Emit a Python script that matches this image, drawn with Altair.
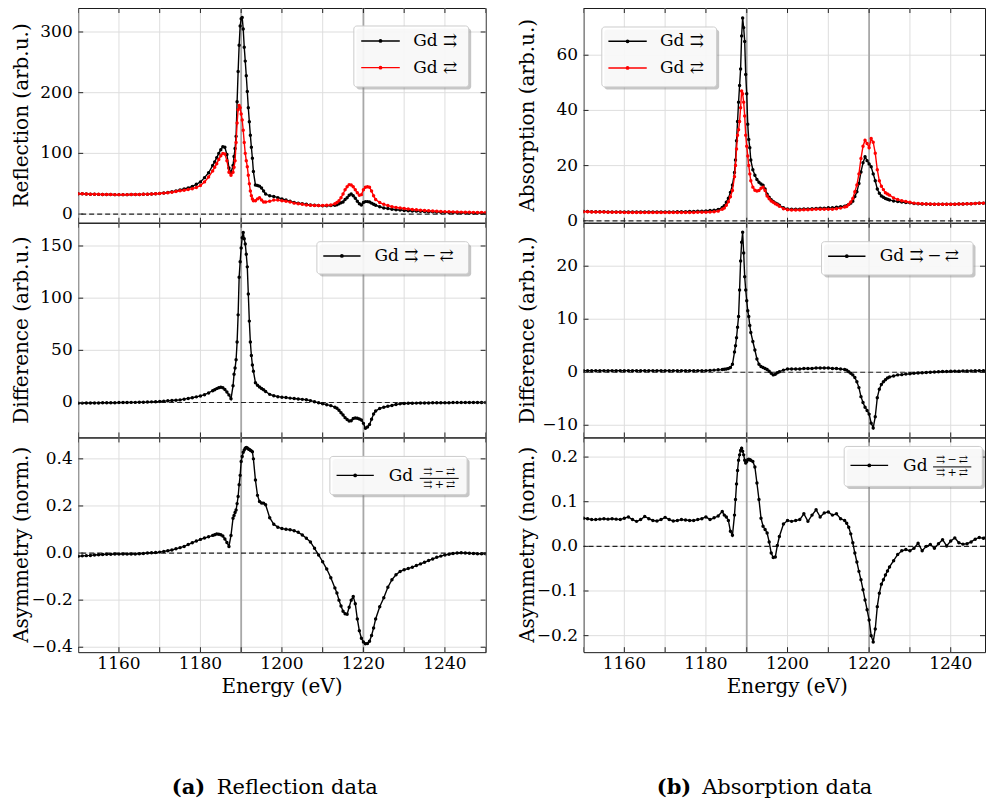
import altair as alt
import pandas as pd

# ---------------- data ----------------
E_L = [1150, 1151, 1152, 1153, 1154, 1155, 1156, 1157, 1158, 1159,
       1160, 1161, 1162, 1163, 1164, 1165, 1166, 1167, 1168, 1169,
       1170, 1171, 1172, 1173, 1174, 1175, 1176, 1177, 1178, 1179,
       1180, 1181, 1182, 1183,
       1183.5, 1184, 1184.5, 1185, 1185.5, 1186, 1186.5, 1187, 1187.5, 1188,
       1188.25, 1188.5, 1188.75, 1189, 1189.25, 1189.5, 1189.75, 1190, 1190.25, 1190.5,
       1190.75, 1191, 1191.25, 1191.5, 1191.75, 1192, 1192.25, 1192.5, 1192.75, 1193,
       1193.5, 1194, 1194.5, 1195, 1195.5, 1196,
       1197, 1198, 1199, 1200, 1201, 1202, 1203, 1204, 1205, 1206, 1207, 1208, 1209,
       1210, 1211, 1212, 1213,
       1213.5, 1214, 1214.5, 1215, 1215.5, 1216, 1216.5, 1217, 1217.5, 1218,
       1218.5, 1219, 1219.5, 1220, 1220.5, 1221, 1221.5, 1222, 1222.5, 1223,
       1224, 1225, 1226, 1227, 1228, 1229, 1230, 1231, 1232, 1233, 1234, 1235, 1236,
       1237, 1238, 1239, 1240, 1241, 1242, 1243, 1244, 1245, 1246, 1247, 1248, 1249, 1250]

REFL_P = [33.5, 33.3, 33.0, 32.8, 32.6, 32.4, 32.3, 32.2, 32.1, 32.0,
          32.0, 32.0, 32.0, 32.1, 32.2, 32.3, 32.5, 32.8, 33.1, 33.5,
          34.0, 34.7, 35.5, 36.6, 38.0, 39.6, 41.5, 43.0, 45.5, 49.0,
          53, 60, 68, 80,
          86, 93, 100, 106, 111, 110, 98, 76, 68, 80,
          95, 108, 128, 185, 235, 278, 310, 322, 324, 305,
          275, 252, 228, 202, 175, 152, 130, 110, 92, 70,
          48, 47, 46, 43, 38, 33,
          30, 29, 27, 25, 23, 21, 19, 18, 17, 16, 15, 14.5, 14, 13.5, 13.5, 14, 14.5,
          15.5, 17, 18.5, 20, 24, 27, 31, 33, 30, 26,
          21, 17, 15, 19, 20.5, 20.5, 20, 18, 16, 14.5,
          12, 10, 9, 8, 7.2, 6.6, 6, 5.5, 5.1, 4.8, 4.5, 4.2, 3.9,
          3.6, 3.4, 3.1, 2.9, 2.7, 2.5, 2.3, 2.2, 2.0, 1.9, 1.8, 1.7, 1.6, 1.5]

REFL_A = [33.5, 33.3, 33.0, 32.8, 32.6, 32.5, 32.3, 32.2, 32.1, 32.0,
          32.0, 32.0, 32.0, 32.1, 32.2, 32.3, 32.5, 32.8, 33.0, 33.4,
          33.9, 34.5, 35.2, 36.1, 37.2, 38.3, 39.3, 40.5, 41.8, 43.8,
          47, 53, 61, 71,
          77, 83, 90, 96, 100, 99, 88, 69, 64, 69,
          77, 88, 118, 150, 172, 179, 175, 165, 155, 138,
          118, 100, 88, 78, 64, 50, 38, 30, 25, 22,
          22, 25, 27, 23, 20, 20,
          21, 23, 23, 22, 21, 20, 18, 17, 16, 15, 14.5, 14, 14, 14, 14.5, 15, 17,
          19, 22, 27, 33, 40, 45, 48.5, 48, 45, 40,
          35, 31, 32, 40, 44, 45, 44, 38, 30, 24,
          19, 16, 14, 12, 11, 10, 9.2, 8.4, 7.6, 7.0, 6.4, 5.9, 5.4,
          5.0, 4.6, 4.3, 4.0, 3.8, 3.6, 3.4, 3.2, 3.0, 2.9, 2.8, 2.7, 2.6, 2.5]

REFL_DIFF = [-0.6, -0.6, -0.5, -0.5, -0.4, -0.4, -0.3, -0.3, -0.2, -0.2,
             -0.1, 0, 0, 0.1, 0.1, 0.2, 0.3, 0.4, 0.6, 0.8,
             1.0, 1.3, 1.6, 1.9, 2.2, 2.5, 3.2, 3.9, 4.6, 5.4,
             6.3, 7.5, 9.2, 11.3,
             12.3, 13.3, 14.2, 14.7, 14.2, 12.5, 10, 7.3, 3.5, 16,
             27, 33, 41, 58, 84, 120, 135, 148, 158, 163,
             157, 152, 142, 130, 104, 78, 58, 45, 36, 30,
             19, 16.5, 14.8, 13.5, 12.2, 10.5,
             7.8, 6.5, 5.6, 5.1, 4.7, 4.2, 3.8, 3.4, 3.0, 2.6, 1.8, 0.8, -0.3, -1.2, -2.1, -3.0, -4.5,
             -5.5, -7.5, -9.8, -12, -14.5, -16.3, -17.8, -17.5, -15.3, -14.8,
             -15, -15.8, -16.8, -20, -24.6, -23.5, -21, -16, -11, -8.2,
             -5.7, -4.6, -3.6, -2.8, -1.9, -1.3, -1.0, -0.8, -0.7, -0.6, -0.5, -0.4, -0.4,
             -0.3, -0.3, -0.2, -0.2, -0.2, -0.1, -0.1, -0.1, 0, 0, 0, 0, 0, 0]

REFL_ASYM = [-0.014, -0.012, -0.011, -0.010, -0.008, -0.007, -0.006, -0.005, -0.005, -0.004,
             -0.004, -0.004, -0.004, -0.004, -0.004, -0.003, -0.002, 0.0, 0.001, 0.002,
             0.004, 0.007, 0.010, 0.013, 0.018, 0.023, 0.028, 0.036, 0.044, 0.051,
             0.058, 0.064, 0.069, 0.075,
             0.078, 0.081, 0.080, 0.078, 0.072, 0.060, 0.045, 0.028, 0.075, 0.148,
             0.16, 0.172, 0.183, 0.21, 0.24, 0.29, 0.33, 0.389, 0.41, 0.428,
             0.438, 0.445, 0.448, 0.446, 0.442, 0.44, 0.437, 0.434, 0.43, 0.40,
             0.31, 0.245, 0.219, 0.213, 0.212, 0.205,
             0.15, 0.122, 0.11, 0.104, 0.101, 0.099, 0.095, 0.088, 0.077, 0.063, 0.047, 0.02,
             -0.008, -0.037, -0.068, -0.105, -0.148,
             -0.17, -0.2, -0.225, -0.247, -0.258, -0.26, -0.23, -0.2, -0.185, -0.215,
             -0.28, -0.33, -0.362, -0.378, -0.385, -0.384, -0.375, -0.35, -0.318, -0.28,
             -0.228, -0.19, -0.145, -0.113, -0.092, -0.078, -0.071, -0.066, -0.06, -0.053,
             -0.046, -0.039, -0.032, -0.025, -0.018, -0.013, -0.008, -0.005, -0.002, 0.0,
             0.001, 0.0, -0.001, -0.002, -0.003, -0.003, -0.003]

E_R = [1150, 1151, 1152, 1153, 1154, 1155, 1156, 1157, 1158, 1159,
       1160, 1161, 1162, 1163, 1164, 1165, 1166, 1167, 1168, 1169,
       1170, 1171, 1172, 1173, 1174, 1175, 1176, 1177, 1178, 1179,
       1180, 1181, 1182, 1183,
       1184, 1184.5, 1185, 1185.5, 1186, 1186.5, 1187,
       1187.25, 1187.5, 1187.75, 1188, 1188.25, 1188.5, 1188.75, 1189,
       1189.25, 1189.5, 1189.75, 1190, 1190.25, 1190.5, 1190.75, 1191,
       1191.5, 1192, 1192.5, 1193, 1193.5, 1194, 1194.5, 1195, 1195.5, 1196, 1196.5, 1197, 1197.5, 1198,
       1199, 1200, 1201, 1202, 1203, 1204, 1205, 1206, 1207, 1208, 1209, 1210, 1211, 1212, 1213, 1214,
       1214.5, 1215, 1215.5, 1216, 1216.5, 1217, 1217.5, 1218, 1218.5, 1219, 1219.5,
       1220, 1220.5, 1221, 1221.5, 1222, 1222.5, 1223, 1223.5, 1224, 1224.5, 1225,
       1226, 1227, 1228, 1229, 1230, 1231, 1232, 1233, 1234, 1235, 1236, 1237, 1238,
       1239, 1240, 1241, 1242, 1243, 1244, 1245, 1246, 1247, 1248, 1249, 1250]

ABS_P = [3.4, 3.4, 3.3, 3.3, 3.3, 3.3, 3.2, 3.2, 3.2, 3.2,
         3.2, 3.2, 3.2, 3.2, 3.2, 3.2, 3.2, 3.2, 3.2, 3.2,
         3.2, 3.2, 3.2, 3.3, 3.3, 3.3, 3.4, 3.4, 3.5, 3.5,
         3.6, 3.7, 3.8, 4.1,
         4.8, 5.5, 6.7, 8.2, 10.3, 13, 17.5,
         22, 29, 36, 43, 49, 55, 67, 73.5,
         70, 65, 53, 46, 35, 29.5, 26.5, 22,
         18.5, 16.5, 15, 14, 13.3, 12.9, 11.5, 9.6, 8.5, 7.6, 7.0, 6.5, 6.1, 5.6,
         4.7, 4.3, 4.2, 4.2, 4.2, 4.3, 4.3, 4.4, 4.5, 4.6, 4.6, 4.7, 4.7, 4.9, 5.1, 5.3,
         5.5, 5.9, 6.4, 7.1, 8.8, 10.5, 13.5, 17.7, 21, 23.2, 21.8,
         20.6, 19.6, 17, 14.5, 11.5, 10, 9.0, 8.5, 8.1, 7.8, 7.5,
         7.2, 7.0, 6.8, 6.6, 6.5, 6.3, 6.2, 6.1, 6.1, 6.0, 6.0, 6.0, 6.0,
         6.0, 6.0, 6.0, 6.1, 6.1, 6.2, 6.2, 6.3, 6.4, 6.4, 6.5, 6.6]

ABS_A = [3.3, 3.3, 3.2, 3.2, 3.2, 3.2, 3.1, 3.1, 3.1, 3.1,
         3.0, 3.0, 3.0, 3.0, 3.0, 3.0, 3.0, 3.0, 3.0, 3.0,
         3.0, 3.0, 3.0, 3.0, 3.0, 3.0, 3.0, 3.0, 3.1, 3.1,
         3.1, 3.2, 3.3, 3.5,
         4.2, 4.6, 5.6, 6.9, 8.7, 11, 16,
         20, 26, 31, 33, 36, 41, 47, 46,
         43, 38, 31, 27, 23.5, 20, 17, 14.5,
         12.2, 11.1, 10.8, 11, 11.8, 12.2, 11, 9, 8, 7.2, 6.7, 6.2, 5.8, 5.3,
         4.4, 4.0, 3.9, 3.9, 3.9, 4.0, 4.0, 4.1, 4.2, 4.2, 4.2, 4.2, 4.2, 4.4, 4.6, 5.0,
         5.2, 5.9, 6.8, 8.1, 10.5, 13, 17, 22.6, 27, 29.2, 28,
         26.5, 29.8, 28.5, 24.5, 18.5, 14.5, 12.5, 11.3, 10.2, 9.7, 9.3,
         8.3, 7.7, 7.3, 7.0, 6.7, 6.4, 6.3, 6.2, 6.1, 6.1, 6.0, 6.0, 6.0,
         6.0, 6.0, 6.0, 6.1, 6.1, 6.2, 6.2, 6.3, 6.4, 6.4, 6.5, 6.6]

ABS_DIFF = [0.3, 0.3, 0.3, 0.3, 0.3, 0.3, 0.3, 0.3, 0.3, 0.3,
            0.3, 0.3, 0.3, 0.3, 0.3, 0.3, 0.3, 0.3, 0.3, 0.3,
            0.3, 0.3, 0.3, 0.3, 0.3, 0.3, 0.3, 0.3, 0.3, 0.3,
            0.3, 0.35, 0.4, 0.45,
            0.5, 0.55, 0.6, 0.7, 0.9, 1.5, 3.8,
            5.0, 6.5, 8.5, 10.5, 15.5, 21, 24.5, 26.4,
            22.5, 18, 15.5, 13.5, 11.6, 10.5, 8.8, 7.5,
            5.8, 4.2, 2.5, 1.5, 1.1, 0.9, 0.7, 0.5, 0.2, -0.2, -0.5, -0.4, -0.1, 0.1,
            0.4, 0.6, 0.6, 0.6, 0.6, 0.7, 0.7, 0.7, 0.8, 0.8, 0.8, 0.8, 0.7, 0.7, 0.6, 0.5,
            0.4, 0.1, -0.2, -0.5, -1.0, -1.8, -2.9, -4.6, -5.7, -6.6, -7.2,
            -7.9, -9.6, -10.5, -8.4, -4.8, -3.2, -2.3, -1.8, -1.4, -1.1, -0.9,
            -0.7, -0.5, -0.45, -0.35, -0.3, -0.2, -0.15, -0.1, -0.05, 0.0, 0.05, 0.1, 0.13,
            0.15, 0.18, 0.2, 0.2, 0.22, 0.25, 0.25, 0.27, 0.28, 0.3, 0.3, 0.32]

ABS_ASYM = [0.063, 0.062, 0.060, 0.060, 0.061, 0.062, 0.061, 0.062, 0.061, 0.060,
            0.063, 0.066, 0.060, 0.056, 0.060, 0.067, 0.062, 0.058, 0.057, 0.060,
            0.065, 0.060, 0.057, 0.058, 0.060, 0.059, 0.058, 0.058, 0.060, 0.062,
            0.066, 0.060, 0.064, 0.068,
            0.078, 0.070, 0.066, 0.058, 0.034, 0.025, 0.07,
            0.105, 0.14, 0.17, 0.193, 0.205, 0.215, 0.22, 0.213,
            0.205, 0.193, 0.187, 0.19, 0.194, 0.195, 0.194, 0.193,
            0.19, 0.178, 0.142, 0.105, 0.063, 0.045, 0.038, 0.030, 0.010, -0.015, -0.025,
            -0.024, 0.002, 0.022,
            0.05, 0.058, 0.056, 0.058, 0.06, 0.073, 0.056, 0.07, 0.082, 0.066, 0.075, 0.077,
            0.07, 0.073, 0.062, 0.058,
            0.052, 0.043, 0.028, 0.008, -0.015, -0.035, -0.056, -0.075, -0.097, -0.12, -0.142,
            -0.165, -0.2, -0.214, -0.185, -0.135, -0.105, -0.085, -0.075, -0.064, -0.055, -0.046,
            -0.032, -0.018, -0.01, -0.007, -0.01, -0.004, 0.007, -0.01, 0.0, 0.004, -0.004,
            0.006, 0.015, 0.001, 0.012, 0.019, 0.008, 0.005, 0.006, 0.010, 0.016, 0.020,
            0.018, 0.025, 0.026]

X_TICKS = [1150, 1160, 1170, 1180, 1190, 1200, 1210, 1220, 1230, 1240, 1250]
X_LABEL_POS = [1160, 1180, 1200, 1220, 1240]
X_LABEL_TXT = ["1160", "1180", "1200", "1220", "1240"]
EDGES = [1190, 1220]

Y_REFL = [0, 100, 200, 300]
Y_REFL_TXT = ["0", "100", "200", "300"]
Y_RDIFF = [0, 50, 100, 150]
Y_RDIFF_TXT = ["0", "50", "100", "150"]
Y_RASYM = [-0.4, -0.2, 0.0, 0.2, 0.4]
Y_RASYM_TXT = ["\u22120.4", "\u22120.2", "0.0", "0.2", "0.4"]
Y_ABS = [0, 20, 40, 60]
Y_ABS_TXT = ["0", "20", "40", "60"]
Y_ADIFF = [-10, 0, 10, 20]
Y_ADIFF_TXT = ["\u221210", "0", "10", "20"]
Y_AASYM = [-0.2, -0.1, 0.0, 0.1, 0.2]
Y_AASYM_TXT = ["\u22120.2", "\u22120.1", "0.0", "0.1", "0.2"]

for arr in (REFL_P, REFL_A, REFL_DIFF, REFL_ASYM):
    assert len(arr) == len(E_L), len(arr)
for arr in (ABS_P, ABS_A, ABS_DIFF, ABS_ASYM):
    assert len(arr) == len(E_R), len(arr)

# ---------------- styling ----------------
FONT = "DejaVu Serif"
GRID = "#dedede"
TICKC = "#222222"
EDGEC = "#a8a8a8"
H = 215
WL = 408
WR = 402
ONE = pd.DataFrame({"k": [0]})
P_ARROW = "Gd \u21c9"
A_ARROW = "Gd \u21c4"
DIFF_TXT = "Gd \u21c9\u2009\u2212\u2009\u21c4"
NUM_TXT = "\u21c9\u2009\u2212\u2009\u21c4"
DEN_TXT = "\u21c9\u2009+\u2009\u21c4"


def txt(text, x, y, size=17, align="left", baseline="middle", weight="normal", angle=0):
    kw = dict(text=text, align=align, baseline=baseline, font=FONT, fontSize=size,
              fontWeight=weight, color="black")
    if angle:
        kw["angle"] = angle
    return alt.Chart(ONE).mark_text(**kw).encode(x=alt.value(x), y=alt.value(y))


def box(x0, y0, x1, y1):
    shadow = alt.Chart(ONE).mark_rect(fill="#808080", opacity=0.45, cornerRadius=3).encode(
        x=alt.value(x0 + 2.5), x2=alt.value(x1 + 2.5), y=alt.value(y0 + 2.5), y2=alt.value(y1 + 2.5))
    frame = alt.Chart(ONE).mark_rect(fill="white", fillOpacity=0.88, stroke="#cccccc",
                                     strokeWidth=1, cornerRadius=3).encode(
        x=alt.value(x0), x2=alt.value(x1), y=alt.value(y0), y2=alt.value(y1))
    return [shadow, frame]


def entry(xa, xb, y, color, text=None, tx=None):
    out = [
        alt.Chart(ONE).mark_rule(color=color, strokeWidth=1.4).encode(
            x=alt.value(xa), x2=alt.value(xb), y=alt.value(y)),
        alt.Chart(ONE).mark_circle(color=color, size=14, opacity=1).encode(
            x=alt.value((xa + xb) / 2), y=alt.value(y)),
    ]
    if text is not None:
        out.append(txt(text, tx, y))
    return out


def fraction(gx, gy, cx, x0, x1, yn, yb, yd):
    return [
        txt("Gd", gx, gy),
        txt(NUM_TXT, cx, yn, size=11, align="center"),
        alt.Chart(ONE).mark_rule(color="black", strokeWidth=1).encode(
            x=alt.value(x0), x2=alt.value(x1), y=alt.value(yb)),
        txt(DEN_TXT, cx, yd, size=11, align="center"),
    ]


def caption(bx, label, lx):
    return [txt(bx, lx[0], 351, size=21, weight="bold"),
            txt(label, lx[1], 351, size=21)]


def panel(E, series, ydom, yticks, ylabels, ytitle, xdom, W, extra, bottom=False):
    xs = alt.Scale(domain=xdom, nice=False, zero=False)
    ys = alt.Scale(domain=ydom, nice=False, zero=False)
    X = alt.X("E:Q", scale=xs, axis=None)
    Y = alt.Y("v:Q", scale=ys, axis=None)
    xt = alt.Chart(pd.DataFrame({"E": X_TICKS}))
    yt = alt.Chart(pd.DataFrame({"v": yticks, "lab": ylabels}))

    layers = [
        # grid
        xt.mark_rule(color=GRID, strokeWidth=1, clip=True).encode(x=X),
        yt.mark_rule(color=GRID, strokeWidth=1).encode(y=Y),
        # absorption-edge markers and zero line
        alt.Chart(pd.DataFrame({"E": EDGES})).mark_rule(color=EDGEC, strokeWidth=1.8).encode(x=X),
        alt.Chart(pd.DataFrame({"v": [0]})).mark_rule(
            color="#222222", strokeDash=[5, 3], strokeWidth=1.2).encode(y=Y),
    ]
    for vals, color in series:
        df = pd.DataFrame({"E": E, "v": vals})
        layers.append(alt.Chart(df).mark_line(
            color=color, strokeWidth=1.4, clip=True,
            point=alt.OverlayMarkDef(filled=True, size=12, color=color, clip=True)).encode(x=X, y=Y))
    # inward ticks on all four sides
    layers += [
        xt.mark_rule(color=TICKC, strokeWidth=1, clip=True).encode(x=X, y=alt.value(H), y2=alt.value(H - 5)),
        xt.mark_rule(color=TICKC, strokeWidth=1, clip=True).encode(x=X, y=alt.value(0), y2=alt.value(5)),
        yt.mark_rule(color=TICKC, strokeWidth=1).encode(y=Y, x=alt.value(0), x2=alt.value(5)),
        yt.mark_rule(color=TICKC, strokeWidth=1).encode(y=Y, x=alt.value(W), x2=alt.value(W - 5)),
    ]
    # y tick labels and title
    layers.append(yt.mark_text(align="right", baseline="middle", font=FONT, fontSize=17,
                               color="black").encode(y=Y, x=alt.value(-5.5), text="lab:N"))
    layers.append(txt(ytitle, -56, H / 2, size=20, align="center", angle=270))
    if bottom:
        xl = alt.Chart(pd.DataFrame({"E": X_LABEL_POS, "lab": X_LABEL_TXT}))
        layers.append(xl.mark_text(align="center", baseline="alphabetic", font=FONT, fontSize=17,
                                   color="black").encode(x=X, y=alt.value(H + 17), text="lab:N"))
        layers.append(txt("Energy (eV)", 204, H + 41, size=20, align="center", baseline="alphabetic"))
    layers.extend(extra)
    return alt.layer(*layers).properties(width=W, height=H)


XL = [1150, 1250]
XR = [1150, 1248.4]

lt = panel(E_L, [(REFL_P, "black"), (REFL_A, "#ff0000")], [-14.3, 339.5], Y_REFL, Y_REFL_TXT,
           "Reflection (arb.u.)", XL, WL,
           box(276, 18, 391, 79) + entry(283.4, 322, 33, "black", P_ARROW, 335.4)
           + entry(283.4, 322, 59.7, "#ff0000", A_ARROW, 335.4))
lm = panel(E_L, [(REFL_DIFF, "black")], [-33.5, 172.3], Y_RDIFF, Y_RDIFF_TXT,
           "Difference (arb.u.)", XL, WL,
           box(239, 19, 391, 51.3) + entry(245.4, 282.7, 33.3, "black", DIFF_TXT, 296.7))
lb = panel(E_L, [(REFL_ASYM, "black")], [-0.421, 0.491], Y_RASYM, Y_RASYM_TXT,
           "Asymmetry (norm.)", XL, WL,
           box(252, 19, 389.4, 57.3) + entry(258.7, 296, 38, "black")
           + fraction(311, 38.5, 361.5, 342, 381, 34.5, 41, 47.5)
           + caption("(a)", "Reflection data", (93.7, 138.7)),
           bottom=True)

rt = panel(E_R, [(ABS_P, "black"), (ABS_A, "#ff0000")], [-0.7, 77.1], Y_ABS, Y_ABS_TXT,
           "Absorption (arb.u.)", XR, WR,
           box(18.3, 19, 133.3, 79) + entry(24.9, 63.3, 33.3, "black", P_ARROW, 76.6)
           + entry(24.9, 63.3, 60, "#ff0000", A_ARROW, 76.6))
rm = panel(E_R, [(ABS_DIFF, "black")], [-12.3, 28.2], Y_ADIFF, Y_ADIFF_TXT,
           "Difference (arb.u.)", XR, WR,
           box(238.3, 19, 390, 52.3) + entry(244.9, 282.3, 33.5, "black", DIFF_TXT, 296.6))
rb = panel(E_R, [(ABS_ASYM, "black")], [-0.237, 0.244], Y_AASYM, Y_AASYM_TXT,
           "Asymmetry (norm.)", XR, WR,
           box(261, 9, 399.3, 49) + entry(267.3, 305, 28, "black")
           + fraction(320, 28.5, 369, 350, 388.3, 22.5, 29.5, 36)
           + caption("(b)", "Absorption data", (73.3, 118.8)),
           bottom=True)

chart = alt.concat(lt, rt, lm, rm, lb, rb, columns=2,
                   spacing={"row": 0, "column": 98}, bounds="flush", align="each").properties(
    padding={"left": 11.3, "top": 5.5, "right": 0, "bottom": 0},
    background="white",
).configure(font=FONT).configure_view(stroke="#1a1a1a", strokeWidth=1)

chart.save("out.html", embed_options={"renderer": "svg", "actions": False})
